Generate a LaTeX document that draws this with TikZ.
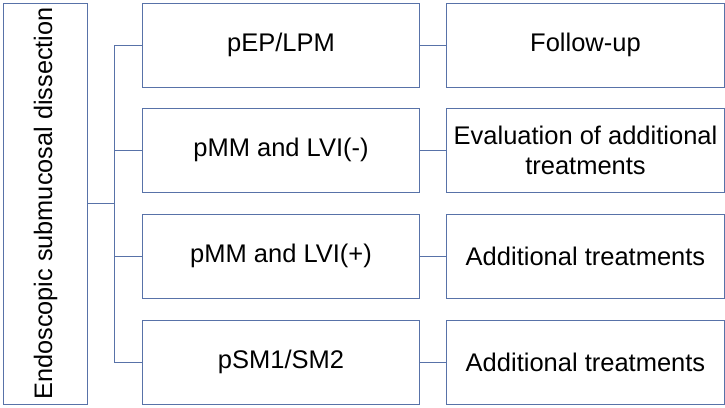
\documentclass[tikz,border=0pt]{standalone}
\usepackage{fontspec}
\setmainfont{Liberation Sans}
\definecolor{lc}{RGB}{88,114,168}
\begin{document}
\begin{tikzpicture}[x=1pt,y=-1pt,
  box/.style={draw=lc,line width=1pt,minimum width=277pt,minimum height=84pt,inner sep=0pt,font=\fontsize{25.5}{30}\selectfont,align=center,anchor=north west},
  rbox/.style={box,minimum width=278pt},
  conn/.style={draw=lc,line width=1pt}]
\useasboundingbox (0,0) rectangle (725,407);
\node[draw=lc,line width=1pt,minimum width=84pt,minimum height=401pt,inner sep=0pt,anchor=north west] (esd) at (3,2.5) {};
\node[rotate=90,font=\fontsize{25.3}{30}\selectfont] at (esd.center) {Endoscopic submucosal dissection};
\node[box] (m1) at (142,2.5) {pEP/LPM};
\node[box] (m2) at (142,107.5) {pMM and LVI(-)};
\node[box] (m3) at (142,213.5) {pMM and LVI(+)};
\node[box] (m4) at (142,319.5) {pSM1/SM2};
\node[rbox] (r1) at (446,2.5) {Follow-up};
\node[rbox] (r2) at (446,107.5) {Evaluation of additional\\treatments};
\node[rbox] (r3) at (446,213.5) {Additional treatments};
\node[rbox] (r4) at (446,319.5) {Additional treatments};
\coordinate (tr) at (114,0);
\draw[conn] (esd.east) -- (tr |- esd.east);
\draw[conn] (m1.west) -- (tr |- m1.west) -- (tr |- m4.west) -- (m4.west);
\draw[conn] (m2.west) -- (tr |- m2.west);
\draw[conn] (m3.west) -- (tr |- m3.west);
\draw[conn] (m1.east) -- (r1.west);
\draw[conn] (m2.east) -- (r2.west);
\draw[conn] (m3.east) -- (r3.west);
\draw[conn] (m4.east) -- (r4.west);
\end{tikzpicture}
\end{document}
